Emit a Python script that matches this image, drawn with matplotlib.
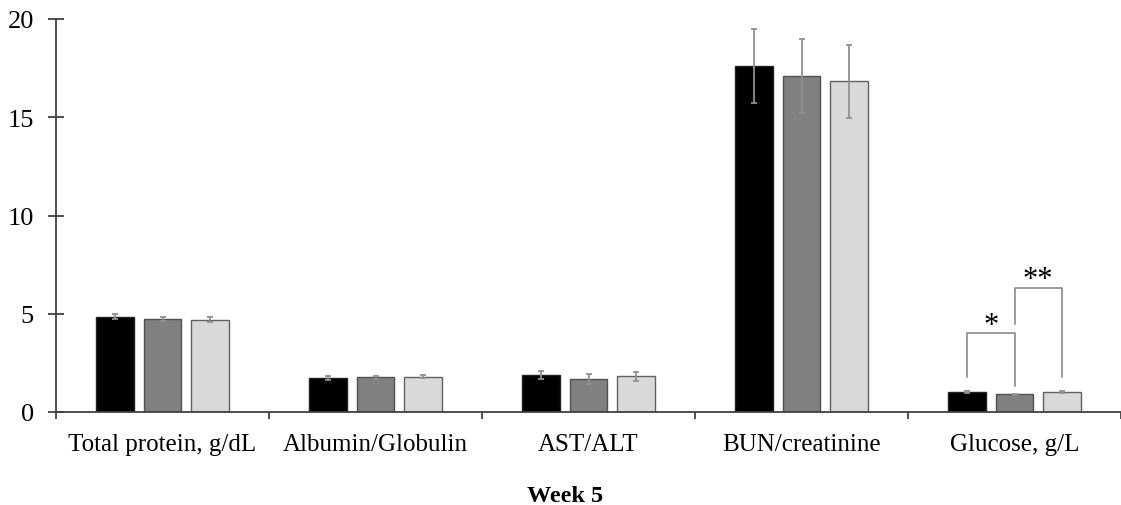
import matplotlib
matplotlib.use("Agg")
import matplotlib.pyplot as plt
import numpy as np

categories = ["Total protein, g/dL", "Albumin/Globulin", "AST/ALT", "BUN/creatinine", "Glucose, g/L"]
series_a = [4.85, 1.73, 1.88, 17.62, 1.00]
series_b = [4.75, 1.77, 1.68, 17.11, 0.90]
series_c = [4.70, 1.80, 1.82, 16.83, 1.03]
err_a = [0.12, 0.08, 0.22, 1.87, 0.05]
err_b = [0.10, 0.07, 0.24, 1.87, 0.04]
err_c = [0.12, 0.08, 0.23, 1.86, 0.05]
y_ticks = [0, 5, 10, 15, 20]
x_title = "Week 5"

# significance brackets in the last category: (bar i, bar j, label)
sig_pairs = [(0, 1, "*"), (1, 2, "**")]

plt.rcParams['font.family'] = ['Liberation Serif', 'DejaVu Serif']

fig = plt.figure(figsize=(11.21, 5.06), dpi=100)
ax = fig.add_axes([56/1121, 1-413/506, 1-56/1121, (413-20)/506])

x = np.arange(len(categories)) + 0.5
pitch = 0.2215
width = 0.178
colors = ["#000000", "#808080", "#d9d9d9"]
edges = ["#222222", "#505050", "#606060"]
vals = [series_a, series_b, series_c]
errs = [err_a, err_b, err_c]
for k in range(3):
    xs = x + (k - 1) * pitch
    ax.bar(xs, vals[k], width=width, color=colors[k], edgecolor=edges[k], linewidth=1.0, zorder=2)
    ax.errorbar(xs, vals[k], yerr=errs[k], fmt='none', ecolor="#909090", elinewidth=1.3,
                capsize=2, capthick=1.3, zorder=3)

# brackets
gi = len(categories) - 1
bracket_tops = [4.0, 6.33]
leg_bottoms = [(1.76, 1.34), (4.48, 1.76)]
star_y = [4.4, 6.72]
for (i, j, lab), top, (yi, yj), sy in zip(sig_pairs, bracket_tops, leg_bottoms, star_y):
    xi = x[gi] + (i - 1) * pitch
    xj = x[gi] + (j - 1) * pitch
    ax.plot([xi, xi, xj, xj], [yi, top, top, yj], color="#808080", lw=1.1, zorder=3)
    ax.text((xi + xj) / 2, sy, lab, ha='center', va='center', fontsize=22)

ax.set_xlim(0, len(categories))
ax.set_ylim(0, 20)
ax.set_yticks(y_ticks)
ax.set_yticklabels([str(t) for t in y_ticks], fontsize=19)
ax.set_xticks(np.arange(len(categories) + 1))
ax.set_xticklabels([])
ax.set_xticks(x, minor=True)
ax.set_xticklabels(categories, minor=True, fontsize=18)
ax.tick_params(axis='x', which='minor', length=0, pad=15)
ax.tick_params(axis='x', which='major', direction='out', length=5, width=1.3, color="#404040")
ax.tick_params(axis='y', direction='inout', length=12, width=1.3, color="#404040", pad=10)
for s in ['top', 'right']:
    ax.spines[s].set_visible(False)
for s in ['left', 'bottom']:
    ax.spines[s].set_color("#404040")
    ax.spines[s].set_linewidth(1.3)

fig.text(565/1121, 1-497/506, x_title, ha='center', va='center', fontsize=17.5, fontweight='bold')

fig.savefig("out.png", dpi=100)
